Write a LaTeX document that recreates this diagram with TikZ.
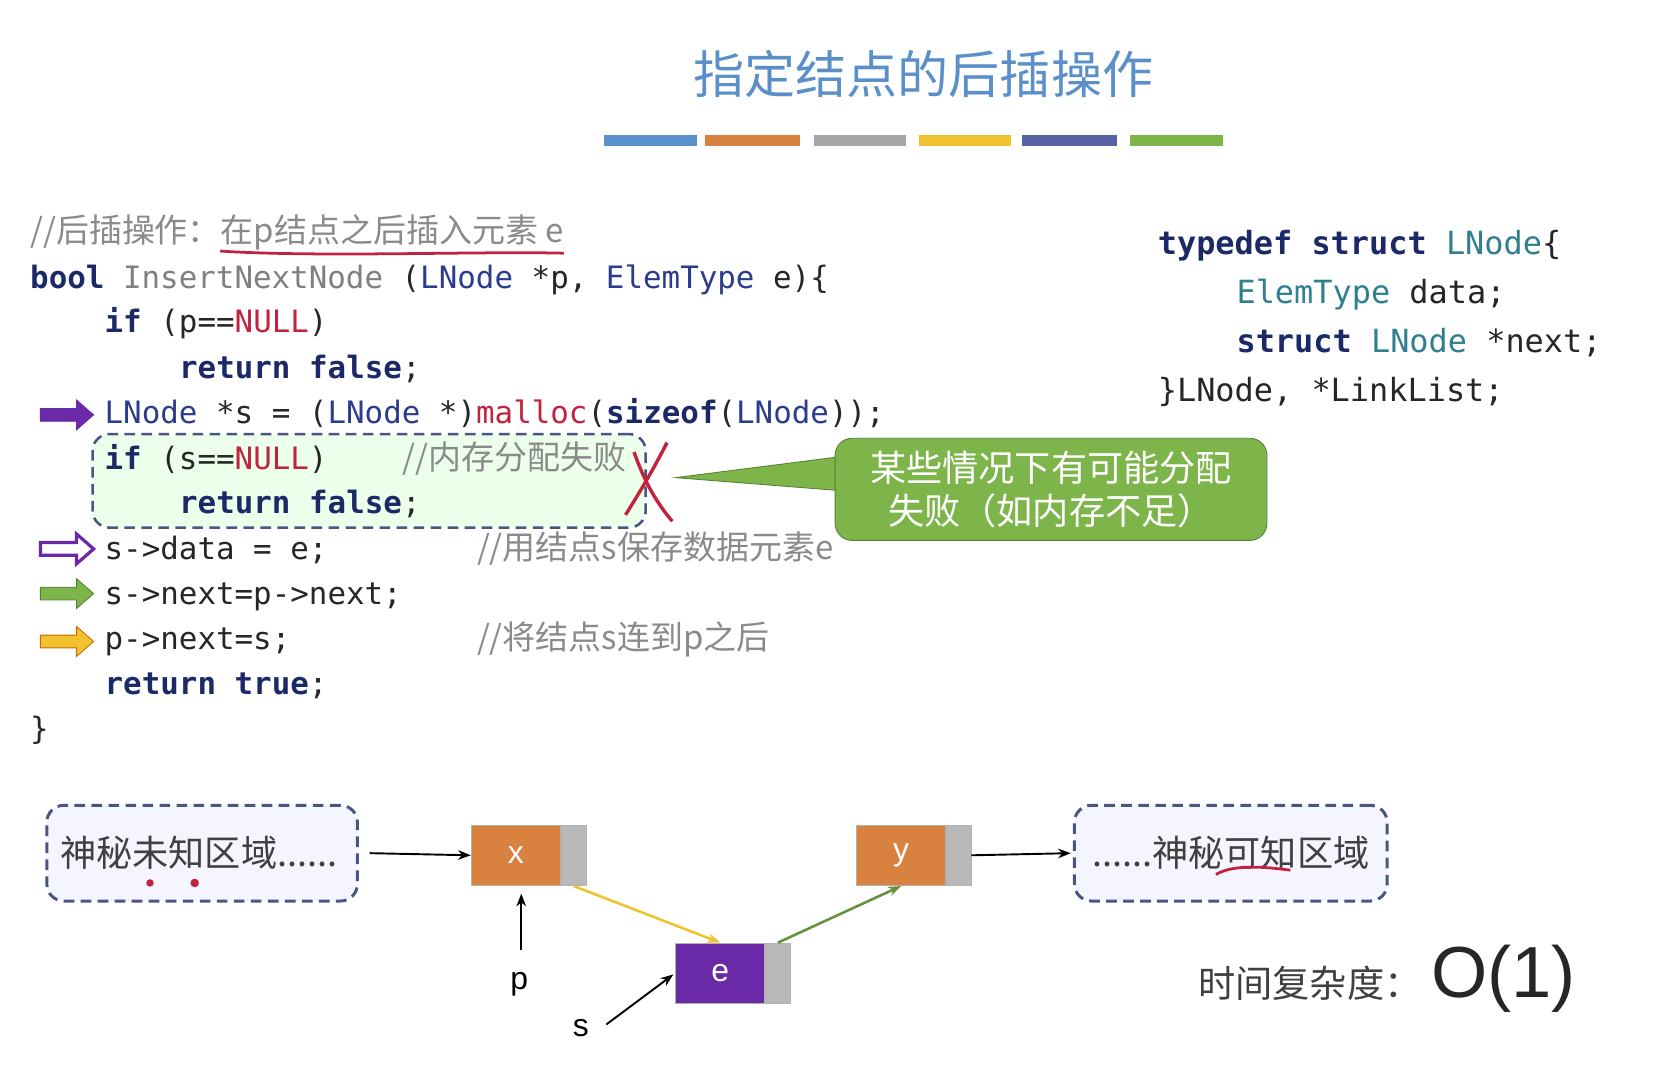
\documentclass[tikz,border=0pt]{standalone}
\usepackage{fontspec}
\setmainfont{Liberation Sans}
\setmonofont{DejaVu Sans Mono}
\newfontfamily\cjk{Noto Sans CJK SC}
\usetikzlibrary{arrows.meta}
\definecolor{kwc}{HTML}{1B2A66}
\definecolor{tyc}{HTML}{2C3C8C}
\definecolor{stc}{HTML}{2F7F8F}
\definecolor{redc}{HTML}{C1233E}
\definecolor{cmc}{HTML}{8A8A8A}
\definecolor{ttl}{HTML}{5B8FC9}
\definecolor{orn}{HTML}{D9813F}
\definecolor{pur}{HTML}{6A2AA8}
\definecolor{grn}{HTML}{7DB54A}
\definecolor{ylw}{HTML}{F2C12E}
\newcommand{\kwd}[1]{\textcolor{kwc}{\bfseries #1}}
\newcommand{\tyn}[1]{\textcolor{tyc}{#1}}
\newcommand{\stn}[1]{\textcolor{stc}{#1}}
\newcommand{\nul}[1]{\textcolor{redc}{#1}}
\newcommand{\barrow}[1]{(#1) ++(-24,-6) -- ++(34,0) -- ++(0,-8) -- ++(16,14) -- ++(-16,14) -- ++(0,-8) -- ++(-34,0) -- cycle}
\tikzset{
 code/.style={anchor=base west,inner sep=0,font=\fontsize{14.5}{16}\ttfamily,text=black!85},
 scode/.style={anchor=base west,inner sep=0,font=\fontsize{15}{16}\ttfamily,text=black!85},
 cmt/.style={anchor=base west,inner sep=0,font=\fontsize{15.5}{16}\cjk,text=cmc},
 bar/.style={line width=5pt},
 region/.style={draw=kwc!80,dashed,line width=1.4pt,dash pattern=on 5pt off 3pt,rounded corners=8pt,fill=blue!4},
 data/.style={draw=gray!60,fill=orn,minimum width=42pt,minimum height=28.5pt,inner sep=0,text=white,font=\fontsize{15}{16}\selectfont},
 ptr/.style={draw=gray!60,fill=gray!55,minimum width=11.5pt,minimum height=28.5pt,inner sep=0},
 arr/.style={-{Stealth[length=6pt]},line width=0.9pt},
 cj/.style={font=\fontsize{17}{18}\cjk,text=black!75,inner sep=0}
}
\begin{document}
\begin{tikzpicture}[x=0.5pt,y=-0.5pt]
\useasboundingbox (0,0) rectangle (1568,1014);
% title
\node[font=\fontsize{24}{26}\cjk,text=ttl] (title) at (868,70) {指定结点的后插操作};
\draw[bar,color=ttl] (568,132)--(655,132);
\draw[bar,color=orn] (663,132)--(752,132);
\draw[bar,color=gray!70] (765,132)--(852,132);
\draw[bar,color=ylw] (864,132)--(950,132);
\draw[bar,color=tyc!80] (961,132)--(1050,132);
\draw[bar,color=grn] (1062,132)--(1150,132);
% dashed box
\node[draw=kwc!80,dashed,dash pattern=on 5pt off 3pt,line width=1.2pt,rounded corners=8pt,fill=green!8,minimum width=260pt,minimum height=44pt,inner sep=0] (fbox) at (347,452) {};
% code
\node[cmt] (c0) at (28,228) {//后插操作：在\textit{p}结点之后插入元素 \textit{e}};
\draw[redc,line width=1.3pt] (207,236) .. controls (300,242) and (450,236) .. (530,238);
\node[code] (c1) at (28,271) {\kwd{bool} \textcolor{gray}{InsertNextNode} (\tyn{LNode} *p, \tyn{ElemType} e)\{};
\node[code] (c2) at (98,313) {\kwd{if} (p==\nul{NULL})};
\node[code] (c3) at (168,356) {\kwd{return false};};
\node[code] (c4) at (98,398) {\tyn{LNode} *s = (\tyn{LNode} *)\nul{malloc}(\kwd{sizeof}(\tyn{LNode}));};
\node[code] (c5) at (98,441) {\kwd{if} (s==\nul{NULL})};
\node[cmt] (c5c) at (378,441) {//内存分配失败};
\node[code] (c6) at (168,483) {\kwd{return false};};
\node[code] (c7) at (98,526) {s->data = e;};
\node[cmt] (c7c) at (448,526) {//用结点\textit{s}保存数据元素\textit{e}};
\node[code] (c8) at (98,568) {s->next=p->next;};
\node[code] (c9) at (98,611) {p->next=s;};
\node[cmt] (c9c) at (448,611) {//将结点\textit{s}连到\textit{p}之后};
\node[code] (c10) at (98,653) {\kwd{return true};};
\node[code] (c11) at (28,695) {\}};
% arrows
\filldraw[fill=pur,draw=pur] \barrow{62,390};
\draw[draw=pur,fill=white,line width=1.5pt] \barrow{62,516};
\filldraw[fill=grn,draw=grn!70!black] \barrow{62,558};
\filldraw[fill=ylw,draw=orange!80!black] \barrow{62,603};
% red X
\draw[redc,line width=1.6pt] (596,425) .. controls (605,450) and (615,470) .. (632,490);
\draw[redc,line width=1.6pt] (627,416) .. controls (615,440) and (600,465) .. (588,484);
% struct
\node[scode] (s1) at (1088,239) {\kwd{typedef struct} \stn{LNode}\{};
\node[scode] (s2) at (1162,285) {\stn{ElemType} data;};
\node[scode] (s3) at (1162,331) {\kwd{struct} \stn{LNode} *next;};
\node[scode] (s4) at (1088,377) {\}LNode, *LinkList;};
% callout
\fill[grn,draw=grn!70!black] (800,428) -- (635,449) -- (800,462) -- cycle;
\node[fill=grn,draw=grn!70!black,rounded corners=8pt,minimum width=203pt,minimum height=48pt,inner sep=0,align=center,text=white,font=\fontsize{17}{20}\cjk] (call) at (988,460) {某些情况下有可能分配\\失败（如内存不足）};
% bottom diagram
\node[region,minimum width=146pt,minimum height=45pt,inner sep=0] (lr) at (190,802) {};
\node[cj] (lrt) at (187,802) {神秘未知区域......};
\node[region,minimum width=147pt,minimum height=45pt,inner sep=0] (rr) at (1157,802) {};
\node[cj] (rrt) at (1157,802) {......神秘可知区域};
\fill[redc] (141,830) circle (3.5);
\fill[redc] (183,830) circle (4);
\draw[redc,line width=1.3pt] (1143,822) .. controls (1160,812) and (1190,815) .. (1213,818);
\node[data] (x) at (485,804) {x};
\node[ptr,anchor=west] (xp) at (x.east) {};
\node[data] (y) at (847,804) {y};
\node[ptr,anchor=west] (yp) at (y.east) {};
\node[data,fill=pur] (e) at (677,915) {e};
\node[ptr,anchor=west] (ep) at (e.east) {};
\draw[arr] (lr.east) ++(10,0) coordinate (l0) (l0) -- (x.west);
\draw[arr] (yp.east) -- ([xshift=-1]rr.west);
\coordinate (pt) at (490,893);
\node[font=\fontsize{15}{16}\selectfont,inner sep=0] (p) at (488,925) {p};
\draw[arr] (pt) -- (490,840);
\node[font=\fontsize{15}{16}\selectfont,inner sep=0] (s) at (546,966) {s};
\coordinate (st) at (570,963);
\draw[arr] (st) -- (633,916);
\draw[arr,ylw,line width=1.2pt] (xp.south) -- (e.north);
\draw[arr,grn!80!black,line width=1.2pt] (ep.north) -- (y.south);
% complexity
\node[font=\fontsize{17.5}{18}\cjk,text=black!75,anchor=base west,inner sep=0] (tc) at (1126,938) {时间复杂度：};
\node[font=\fontsize{34}{36}\selectfont,text=black!85,anchor=base west,inner sep=0] (o1) at (1345,938) {O(1)};
\end{tikzpicture}
\end{document}
